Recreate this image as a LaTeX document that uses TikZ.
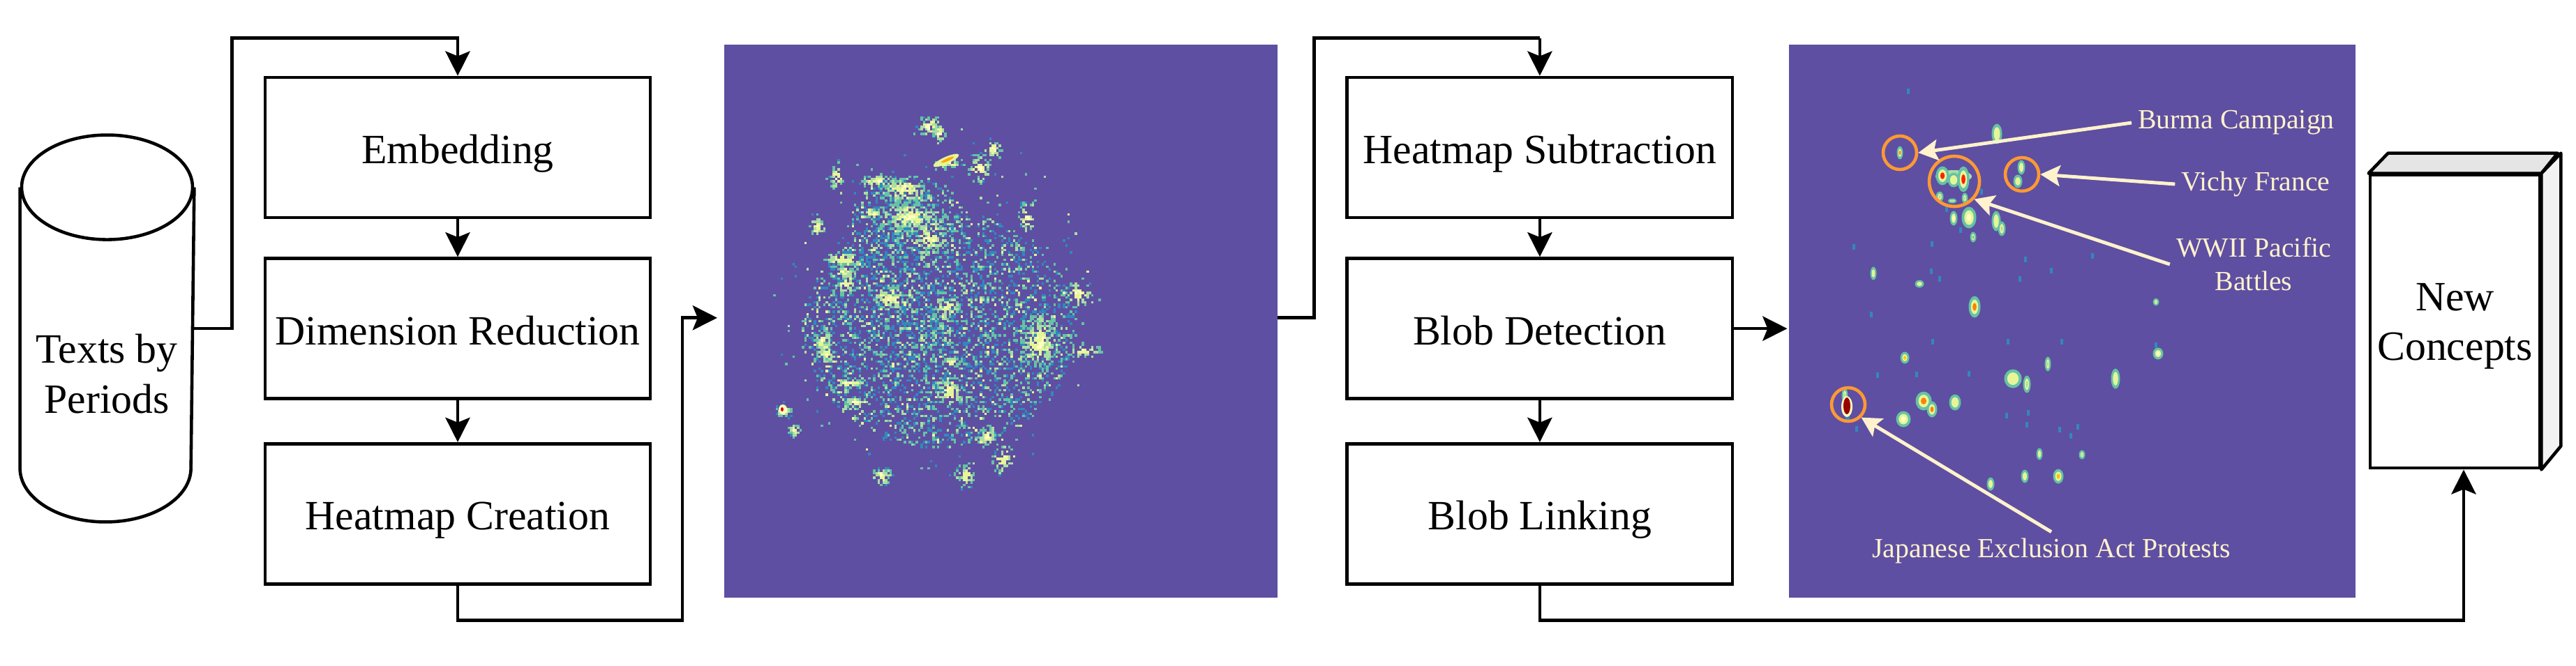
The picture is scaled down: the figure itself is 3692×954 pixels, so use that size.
\documentclass[tikz,border=0pt]{standalone}
\usepackage{fontspec}
\setmainfont{Liberation Serif}
\usetikzlibrary{arrows.meta}
\usetikzlibrary{calc}

\definecolor{heatbg}{HTML}{5E4FA2}
\definecolor{heat0}{HTML}{FFFFBF}
\definecolor{heat1}{HTML}{E6F598}
\definecolor{heat2}{HTML}{ABDDA4}
\definecolor{heat3}{HTML}{66C2A5}
\definecolor{heat4}{HTML}{3288BD}
\definecolor{creamnote}{HTML}{FFF2CC}
\definecolor{ringorange}{HTML}{FF9933}

\tikzset{
  procbox/.style={draw, line width=1.3pt, fill=white, inner sep=0pt, minimum width=5.52cm,
    minimum height=2.01cm, text height=13pt, text depth=0pt, font=\fontsize{17}{20.3}\selectfont},
  heatimg/.style={fill=heatbg, inner sep=0pt, minimum height=7.925cm},
  note/.style={text=creamnote, inner sep=2pt, align=center, font=\fontsize{11.3}{13.7}\selectfont},
  ring/.style={circle, draw=ringorange, line width=1.3pt, inner sep=0pt, minimum size=0.48cm},
  pointer/.style={draw=creamnote, line width=1.4pt, -{Stealth[length=8pt,width=8.5pt,inset=1.5pt,fill=creamnote]}}
}

% scattered pixels of the first heatmap
\newcommand{\heatcloud}[5]{%
  \foreach \n in {1,...,#5}{
    \pgfmathsetmacro{\ang}{360*rnd}
    \pgfmathsetmacro{\rad}{pow(rnd,0.62)}
    \pgfmathsetmacro{\px}{round((#1+#3*\rad*cos(\ang))/3.4)*3.4}
    \pgfmathsetmacro{\py}{round((#2+#4*\rad*sin(\ang))/3.4)*3.4}
    \pgfmathtruncatemacro{\pick}{min(4,1+4*sqrt(rnd))}
    \fill[heat\pick] (\px,\py) rectangle ++(3.4,3.4);
  }}
% denser clumps, lighter towards the middle
\newcommand{\heatblob}[5]{%
  \foreach \n in {1,...,#5}{
    \pgfmathsetmacro{\ang}{360*rnd}
    \pgfmathsetmacro{\rad}{rnd}
    \pgfmathsetmacro{\px}{round((#1+#3*\rad*cos(\ang))/3.4)*3.4}
    \pgfmathsetmacro{\py}{round((#2+#4*\rad*sin(\ang))/3.4)*3.4}
    \pgfmathtruncatemacro{\pick}{min(4,3.4*\rad+1.2*rnd)}
    \fill[heat\pick] (\px,\py) rectangle ++(3.4,3.4);
  }}

\begin{document}
\begin{tikzpicture}[x=0.01cm,y=-0.01cm,>={Stealth[length=10pt,width=10pt,inset=2pt]},line width=1.3pt,node distance=2.6cm]
  \useasboundingbox (0,0) rectangle (3692,954);
  \pgfmathsetseed{1942}

  \node[inner sep=0pt, minimum width=2.45cm, minimum height=5.5cm] (corpus) at (153.5,471) {};
  \draw ($(corpus.north)+(0,75)$) ellipse (122.5 and 75);
  \draw ($(corpus.north west)+(0,75)$) -- ($(corpus.south west)+(0,-77)$) arc[start angle=180, end angle=0, x radius=122.5, y radius=77] -- ($(corpus.north east)+(0,75)$);
  \node[font=\fontsize{17}{20.3}\selectfont, align=center, inner sep=0pt] (corpuslabel) at (153,536) {Texts by\\Periods};

  \node[procbox] (embed) at (656,211.5) {Embedding};
  \node[procbox] (dimred) [below of = embed, node distance=2.595cm] {Dimension Reduction};
  \node[procbox] (heatmake) [below of = dimred, node distance=2.655cm] {Heatmap Creation};

  \node[heatimg, minimum width=7.925cm] (heatA) at (1434.75,460.75) {};

  \node[procbox] (subtract) [right of = embed, node distance=15.5cm] {Heatmap Subtraction};
  \node[procbox] (detect) [below of = subtract, node distance=2.595cm] {Blob Detection};
  \node[procbox] (link) [below of = detect, node distance=2.655cm] {Blob Linking};

  \node[heatimg, minimum width=8.12cm] (heatB) at (2970,460.5) {};

  % first heatmap
  \heatcloud{1345}{470}{195}{170}{3400}
  \heatcloud{1300}{320}{85}{70}{500}
  \heatcloud{1340}{440}{240}{260}{300}
  \foreach \x/\y/\a/\b/\n in {1330/179/18/18/90, 1345/190/10/16/30, 1402/240/18/24/70, 1258/259/30/12/90, 1293/271/36/22/170,
      1304/310/52/26/320, 1330/340/34/24/90, 1198/252/11/24/35, 1170/322/12/16/45, 1207/371/30/14/100, 1210/405/16/20/70,
      1178/487/15/16/70, 1183/505/15/16/70, 1488/487/30/44/320, 1545/420/20/26/60, 1551/502/30/11/50,
      1215/548/24/9/60, 1224/575/17/8/50, 1138/616/10/9/40, 1413/624/15/16/80, 1263/681/15/14/70,
      1382/681/15/20/60, 1359/560/22/26/110, 1362/517/15/7/40, 1275/426/30/20/120, 1356/438/20/16/70,
      1436/657/18/24/50, 1471/310/14/26/50, 1422/213/14/16/40, 1205/390/20/12/40, 1122/587/12/12/40,
      1250/305/18/8/30, 1356/232/24/10/40}
    \heatblob{\x}{\y}{\a}{\b}{\n};
  \fill[heat1, rotate around={24:(1356,230)}] (1356,230) ellipse (20 and 5);
  \fill[orange!70!yellow, rotate around={24:(1358,229)}] (1358,229) ellipse (10 and 2);
  \fill[heat0] (1122,587) ellipse (6 and 7);
  \fill[red!80!black] (1121,587) ellipse (2 and 3);

  % second heatmap
  \fill[heat2] (2800,253) ellipse (26 and 9);
  \foreach \x/\y/\a/\b/\c in {2723/219/3/8/orange, 2784/252/8/12/red!75!orange, 2814/257/7/17/red!75!orange,
      2800/258/7/9/heat1, 2862/192/6/13/heat1, 2897/240/4/9/heat1, 2892/260/5/8/heat1,
      2822/312/9/14/heat0, 2800/313/4/9/heat0, 2861/317/5/13/heat1, 2869/328/4/9/heat2,
      2685/392/3/8/heat1, 2751/407/5/4/heat1, 2830/440/7/14/orange, 3090/433/3/4/heat2,
      2730/513/5/7/orange!40!yellow, 3093/507/6/7/heat0, 2935/522/3/9/heat2, 2885/543/11/12/heat1,
      2905/551/4/11/heat2, 3032/543/5/13/heat1, 2644/567/3/9/heat2, 2757/575/10/12/orange,
      2769/587/6/10/orange, 2802/577/7/10/heat1, 2728/601/9/10/heat0, 2923/651/3/7/heat1,
      2984/652/3/5/heat2, 2902/683/4/8/heat1, 2950/683/6/9/orange!50!yellow, 2853/694/4/8/heat1,
      2780/282/4/6/heat2, 2798/288/5/2/heat2, 2816/284/3/6/heat2, 2828/340/3/6/heat3}{
    \fill[heat3] (\x,\y) ellipse (\a+1.5 and \b+1.5);
    \fill[heat1] (\x,\y) ellipse (\a*0.75 and \b*0.75);
    \fill[\c] (\x,\y) ellipse (\a*0.4 and \b*0.4);
  }
  \foreach \x/\y in {2735/131, 2657/354, 2768/389, 2940/388, 2903/372, 2999/367, 2682/451, 2895/400,
      2770/490, 2878/490, 2955/490, 3090/495, 2661/615, 2747/537, 2691/538, 2822/536, 2907/592, 2905/609,
      2968/625, 2876/596, 2952/616, 2978/612, 2780/400, 2769/350, 2790/300, 2810/330, 2840/275}
    \fill[heat4] (\x-2,\y-4) rectangle (\x+2,\y+4);
  \fill[heat4] (2645,590) rectangle (2651,603);
  \fill[heat0] (2647,583) ellipse (8 and 15);
  \fill[red!60!black] (2647,582) ellipse (5 and 12);

  \node[ring] (burmaring) at (2723,219) {};
  \node[ring] (vichyring) at (2898,250) {};
  \node[ring, minimum size=0.72cm] (pacificring) at (2801,260) {};
  \node[ring] (japanring) at (2649,580) {};

  \node[note] (burma) at (3205,176) {Burma Campaign};
  \node[note] (vichy) at (3233,264) {Vichy France};
  \node[note] (pacific) at (3230,379) {WWII Pacific\\Battles};
  \node[note] (japan) at (2940,790) {Japanese Exclusion Act Protests};

  \path[pointer] (burma.west) -- (burmaring.east);
  \path[pointer] (vichy.west) -- (vichyring.east);
  \path[pointer] (pacific.west) -- (pacificring.-42);
  \path[pointer] (japan.north) -- (japanring.-45);

  % book at the end
  \node[draw, fill=white, inner sep=0pt, minimum width=2.43cm, minimum height=4.2cm, align=center, font=\fontsize{17}{20.3}\selectfont] (concepts) at (3518.5,461) {\rule{0pt}{15pt}New\\Concepts};
  \draw[fill=black!10, line join=round] (concepts.north west) -- ++(28,-29) -- ++(243,0) -- (concepts.north east) -- cycle;
  \draw[fill=black!5, line join=round] (concepts.north east) -- ++(28,-29) -- ++(0,420) -- (concepts.south east) -- cycle;
  \coordinate (bookfoot) at ($(concepts.south)+(12.5,0)$);

  \draw[->] (corpus.east) -- ++(54,0) |- ($(embed.north)+(0,-54)$) -- (embed.north);
  \draw[->] (embed) -- (dimred);
  \draw[->] (dimred) -- (heatmake);
  \draw[->] (heatmake.south) -- ++(0,50) -| ($(heatA.west)+(-58,-5)$) -- ($(heatA.west)+(-8,-5)$);
  \draw ($(heatA.east)+(-3,-5)$) -- ($(heatA.east)+(50,-5)$) |- ($(subtract.north)+(0,-54)$);
  \draw[->] ($(subtract.north)+(0,-54)$) -- (subtract.north);
  \draw[->] (subtract) -- (detect);
  \draw[->] (detect) -- (link);
  \draw[->] (detect.east) -- (detect.east -| heatB.west);
  \draw[->] (link.south) -- ++(0,50) -| (bookfoot);
\end{tikzpicture}
\end{document}
